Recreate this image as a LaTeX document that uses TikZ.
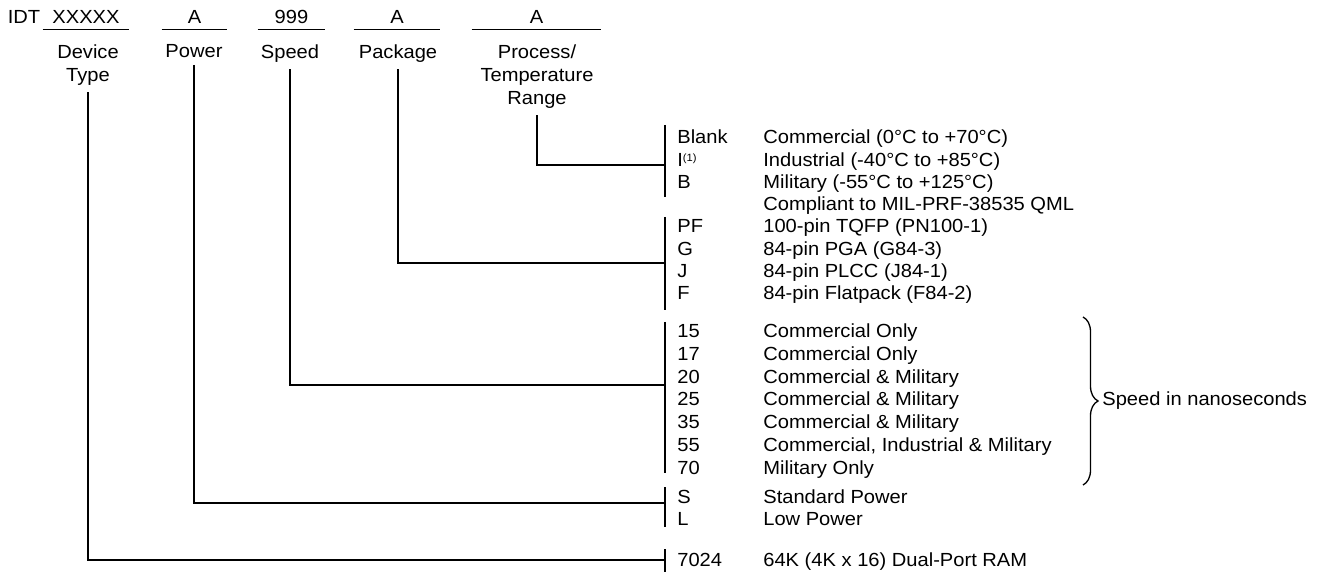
\documentclass[tikz,border=0pt]{standalone}
\usepackage{fontspec}
\setmainfont{Liberation Sans}[FakeStretch=1.06]
\usetikzlibrary{positioning,decorations.pathreplacing}

\begin{document}
\begin{tikzpicture}[
  x=0.02cm, y=-0.02cm,
  font=\fontsize{10.8}{13}\selectfont,
  wire/.style={draw=black, line width=0.75pt},
  field/.style={inner sep=0pt, minimum height=0.48cm, anchor=center,
                append after command={(\tikzlastnode.south west)
                  edge[wire] (\tikzlastnode.south east)}},
  fieldlab/.style={align=center, inner xsep=0pt, inner ysep=0.13cm, anchor=north},
  code/.style={anchor=mid west, inner sep=0pt, yshift=-0.04cm},
  desc/.style={anchor=mid west, inner sep=0pt, yshift=-0.04cm},
]
\useasboundingbox (0,0) rectangle (1332,577);

%% -- Part number fields -------------------------------------------------------
\node[inner sep=0pt] (idt) at (24,17) {IDT};
\node[field, minimum width=1.72cm] (devfield)  at (86,17)    {XXXXX};
\node[field, minimum width=1.30cm] (powfield)  at (194.5,17) {A};
\node[field, minimum width=1.34cm] (spdfield)  at (291.5,17) {999};
\node[field, minimum width=1.72cm] (pkgfield)  at (397,17)   {A};
\node[field, minimum width=2.58cm] (procfield) at (536.5,17) {A};

%% -- Field names --------------------------------------------------------------
\node[fieldlab] (devlab)  at (88,38)  {Device\\Type};
\node[fieldlab] (powlab)  at (194,38) {Power};
\node[fieldlab] (spdlab)  at (290,38) {Speed};
\node[fieldlab] (pkglab)  at (398,38) {Package};
\node[fieldlab] (proclab) at (537,38) {Process/\\Temperature\\Range};

%% -- Code / description rows --------------------------------------------------
\foreach \y/\c/\d [count=\i] in {
    137/Blank/Commercial (0°C to +70°C),
    159.5/I\raisebox{0.45ex}{\fontsize{6}{6}\selectfont(1)}/Industrial (-40°C to +85°C),
    182/B/Military (-55°C to +125°C),
    204/{}/Compliant to MIL-PRF-38535 QML,
    226/PF/100-pin TQFP (PN100-1),
    248.5/G/84-pin PGA (G84-3),
    271/J/84-pin PLCC (J84-1),
    293/F/84-pin Flatpack (F84-2),
    331/15/Commercial Only,
    354/17/Commercial Only,
    376.5/20/Commercial \& Military,
    399/25/Commercial \& Military,
    422/35/Commercial \& Military,
    445/55/{Commercial, Industrial \& Military},
    467.5/70/Military Only,
    497/S/Standard Power,
    519/L/Low Power,
    560/7024/64K (4K x 16) Dual-Port RAM} {
  \node[code] (code\i) at (677,\y) {\c};
  \node[desc] (desc\i) at (763,\y) {\d};
}

%% -- Group bars ---------------------------------------------------------------
\draw[wire] (665,125) -- (665,197);
\draw[wire] (665,217) -- (665,310);
\draw[wire] (665,322) -- (665,473);
\draw[wire] (665,487) -- (665,527);
\draw[wire] (665,549) -- (665,572);

\coordinate (procjoin) at (665,165);
\coordinate (pkgjoin)  at (665,263);
\coordinate (spdjoin)  at (665,385);
\coordinate (powjoin)  at (665,503);
\coordinate (devjoin)  at (665,560);

%% -- Leaders from field names to groups --------------------------------------
\draw[wire] (proclab.south) |- (procjoin);
\draw[wire] (pkglab.south)  |- (pkgjoin);
\draw[wire] (spdlab.south)  |- (spdjoin);
\draw[wire] (powlab.south)  |- (powjoin);
\draw[wire] (devlab.south)  |- (devjoin);

%% -- Speed brace --------------------------------------------------------------
\draw[wire, decorate, decoration={brace, amplitude=0.3cm}]
  (1083,317) -- (1083,485);
\node[anchor=mid west, inner sep=0pt] (spdnote) at (1102,401) {Speed in nanoseconds};

\end{tikzpicture}
\end{document}
